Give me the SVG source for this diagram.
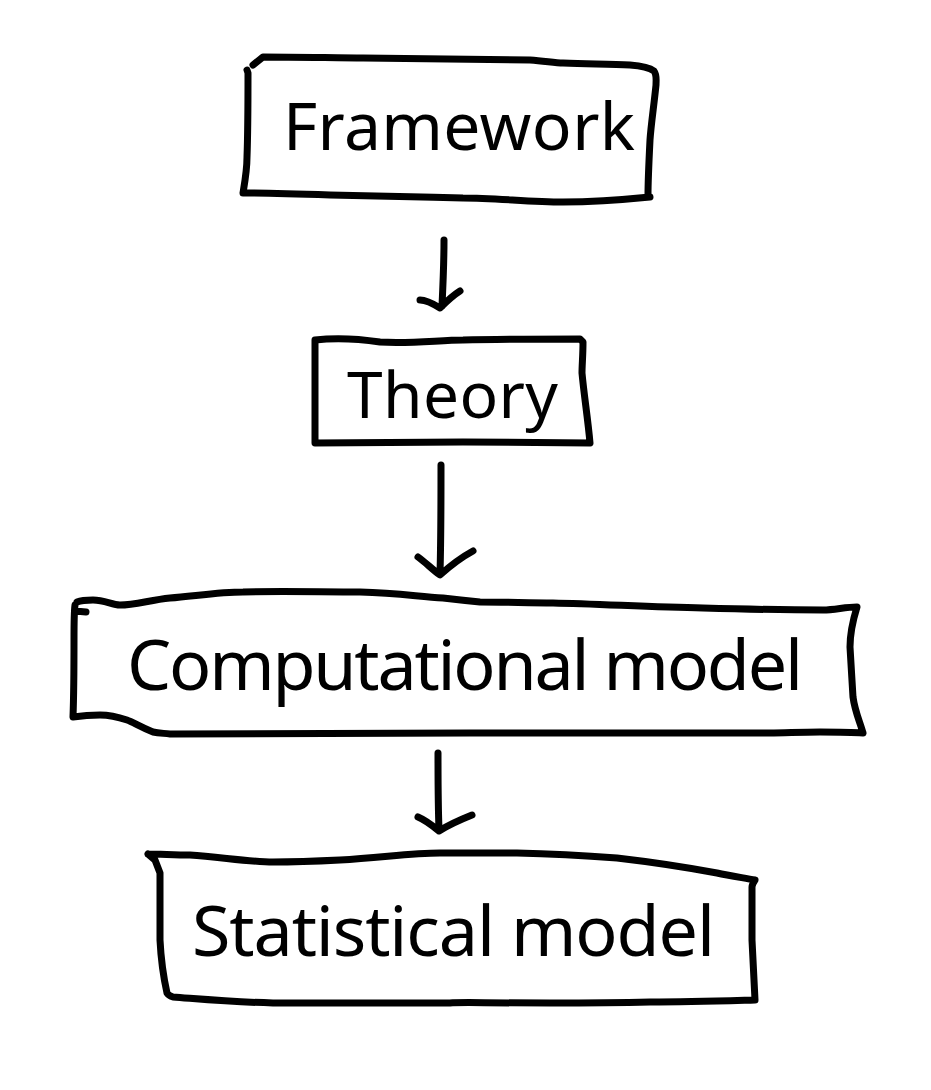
<svg xmlns="http://www.w3.org/2000/svg" width="931" height="1090" viewBox="0 0 931 1090">
<style>
.b{fill:none;stroke:#000;stroke-width:7;stroke-linecap:round;stroke-linejoin:round}
.t{font-family:"Noto Sans","Liberation Sans",sans-serif;fill:#000}
</style>
<rect width="931" height="1090" fill="#fff"/>
<g id="framework">
<path class="b" d="M253,65 L263,57 C300,57 340,58 363,58 C430,59 480,59 530,60 C545,61 555,63 563,63 C590,64 610,64 630,65 C642,66 650,68 654,71 C657,75 656,80 656,85 C654,105 651,125 650,140 C649,160 648,180 648,195 M650,197 C620,200 590,202 563,202 C530,202 495,198 463,198 C420,197 380,196 330,195 C300,194 270,193 243,193 C245,181 247,170 247,157 C248,130 248,100 248,73 L247,70"/>
<text class="t" x="283" y="150" font-size="66" textLength="352">Framework</text>
</g>
<g id="theory">
<path class="b" d="M315,340 C340,337 360,339 380,342 C410,344 440,340 463,340 C500,339 540,339 580,339 L583,342 C583,355 582,365 582,373 C584,395 588,420 590,443 C550,443 510,442 463,442 C410,442 360,443 315,443 C315,410 315,370 315,340 Z"/>
<text class="t" x="347" y="418" font-size="64" textLength="211">Theory</text>
</g>
<g id="computational">
<path class="b" d="M75,611 L86,612 M77,602 C82,600 88,600 93,600 C105,600 112,605 120,605 C135,605 150,600 170,598 C195,596 220,592 243,592 C280,591 320,592 360,592 C400,593 420,597 443,598 C460,600 470,601 480,602 C505,602 530,603 553,603 C600,604 650,607 703,608 C740,609 790,610 823,610 C835,610 845,607 857,607 C853,620 850,635 850,647 C851,665 852,680 853,697 C855,712 860,722 863,733 M863,733 C850,732 835,732 820,732 C800,732 785,733 770,733 C720,733 680,733 637,733 C580,733 520,733 470,733 C370,733 270,733 170,734 C160,733 158,733 153,732 C140,727 133,722 127,720 C118,717 108,715 100,715 C90,715 80,716 73,717 C74,690 74,660 74,640 C74,625 74,612 75,605"/>
<text class="t" x="127" y="690" font-size="70" textLength="676">Computational model</text>
</g>
<g id="statistical">
<path class="b" d="M148,854 C160,854 175,855 190,855 C220,857 250,862 273,862 C300,862 320,861 340,860 C380,858 410,853 440,853 C470,853 495,853 517,853 C560,854 590,856 617,858 C660,863 690,868 717,873 C730,876 745,878 755,880 C753,883 752,885 752,887 C752,905 752,925 752,940 C753,960 754,980 755,1000 C720,1001 690,1002 650,1002 C610,1003 580,1003 550,1003 C480,1003 460,1002 450,1003 C380,1003 320,1003 273,1003 C230,1002 200,999 173,997 C170,996 168,995 167,993 C163,975 161,960 160,940 C160,915 160,895 160,873 L155,860 L148,854"/>
<text class="t" x="192" y="956" font-size="70" textLength="523">Statistical model</text>
</g>
<g id="connectors" class="b">
<path d="M444,240 C444,262 443,285 442,306 M420,300 C426,300 432,303 440,308 C446,302 452,296 460,291"/>
<path d="M441,465 C441,500 441,540 440,573 M418,557 C425,562 433,570 440,575 C450,566 462,557 473,551"/>
<path d="M438,753 C438,780 438,805 439,829 M418,817 C425,820 433,826 439,831 C450,824 462,819 472,815"/>
</g>
</svg>
